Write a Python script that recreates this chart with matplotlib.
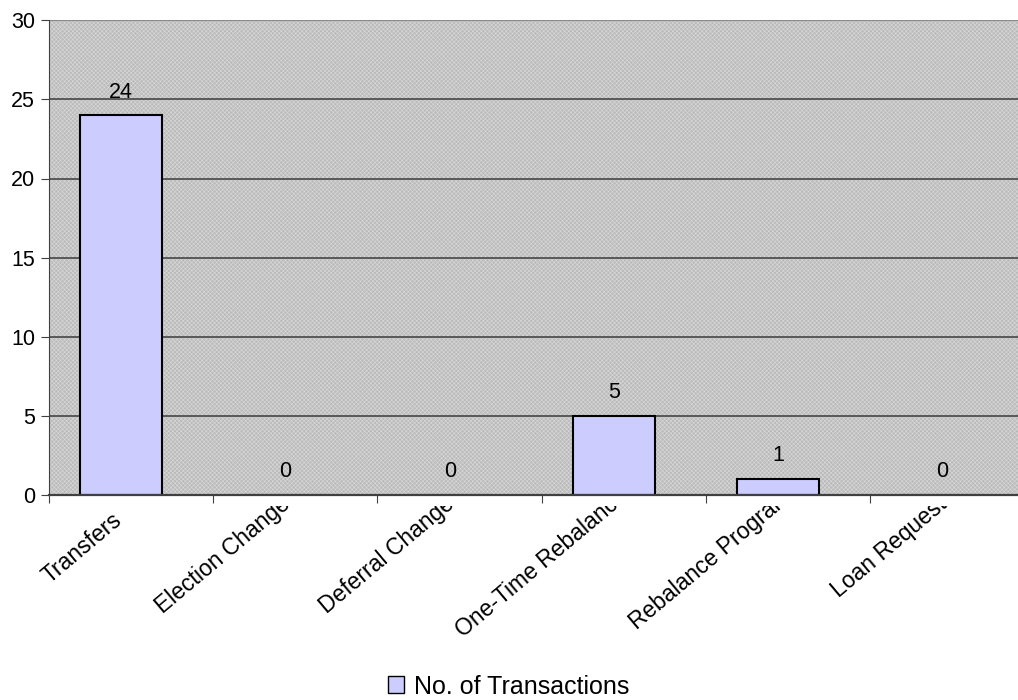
import numpy as np
import matplotlib
matplotlib.use('Agg')
import matplotlib.pyplot as plt
from matplotlib.patches import Patch
from matplotlib.transforms import Bbox, offset_copy

categories = ['Transfers', 'Election Changes', 'Deferral Changes',
              'One-Time Rebalance', 'Rebalance Program', 'Loan Requests']
counts = [24, 0, 0, 5, 1, 0]
series_name = 'No. of Transactions'
yticks = [0, 5, 10, 15, 20, 25, 30]

plt.rcParams['font.family'] = ['Liberation Sans', 'DejaVu Sans']
plt.rcParams['hatch.linewidth'] = 0.4

W, H = 1018, 700
fig = plt.figure(figsize=(W / 100, H / 100), dpi=100)
ax = fig.add_axes([0.0481, 0.293, 0.968, 0.678])

x = np.arange(len(categories))
shift = 0.06  # category boundaries sit a bit right of the bar centres
ax.set_xlim(-0.5 + shift, len(categories) - 0.5 + shift)
ax.set_ylim(0, 30)

# plot area: grey dotted fill
ax.set_facecolor('#bbbbbb')
ax.patch.set_hatch('xxxxxxxx')
ax.patch.set_edgecolor('#dadada')

for y in yticks[1:-1]:
    ax.axhline(y, color='#505050', lw=1.3, zorder=1)
ax.axhline(30, color='#8a8a8a', lw=1.6, zorder=1)

bars = ax.bar(x, counts, width=0.5, color='#ccccff', edgecolor='black',
              linewidth=1.5, zorder=2)
for xi, c in zip(x, counts):
    ax.text(xi, c + 0.8, str(c), ha='center', va='bottom', fontsize=15.5)

for s in ['top', 'right']:
    ax.spines[s].set_visible(False)
ax.spines['left'].set_color('#404040')
ax.spines['bottom'].set_color('#404040')
ax.spines['bottom'].set_linewidth(1.6)

ax.set_yticks(yticks)
ax.set_yticklabels([str(v) for v in yticks], fontsize=15.5)
ax.tick_params(axis='y', length=6, color='#404040', pad=4)
ax.set_xticks(x - 0.5 + shift)
ax.set_xticklabels([])
ax.tick_params(axis='x', length=6, color='#404040')

# rotated category labels; long ones run up into the axis and get cut off
def px_to_data_y(py):
    return ax.transData.inverted().transform((0, H - py))[1]

clip = Bbox.from_extents(0, 0, W, H - 506)
fig.canvas.draw()
renderer = fig.canvas.get_renderer()
for xi, name in zip(x, categories):
    t = ax.text(xi, px_to_data_y(509), name, rotation=40, ha='right', va='top',
                rotation_mode='anchor', fontsize=16.5)
    ext = t.get_window_extent(renderer)
    if H - ext.y0 > 610:
        t.set_y(px_to_data_y(499))
        t.set_verticalalignment('baseline')
        t.set_transform(offset_copy(ax.transData, fig, x=15, y=0, units='dots'))
    else:
        t.set_transform(offset_copy(ax.transData, fig, x=-10, y=0, units='dots'))
    t.set_clip_box(clip)
    t.set_clip_on(True)

handle = Patch(facecolor='#ccccff', edgecolor='black', linewidth=1)
fig.legend([handle], [series_name], loc='lower center',
           bbox_to_anchor=(0.5, -0.03), frameon=False, fontsize=18,
           handlelength=0.65, handleheight=0.65, handletextpad=0.4)

fig.savefig('out.png', dpi=100)
